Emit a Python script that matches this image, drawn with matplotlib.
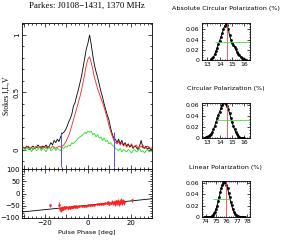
import numpy as np
import matplotlib
matplotlib.use("Agg")
import matplotlib.pyplot as plt
from matplotlib.ticker import MultipleLocator, FixedLocator

# ---------------- data ----------------
# Stokes profiles sampled every 0.75 deg from -30 to +30
stokes_I = [0.02, 0.01, 0.03, 0.02, 0.00, 0.02, 0.03, 0.01, 0.02, 0.04,
            0.02, 0.01, 0.03, 0.02, 0.04, 0.01, 0.03, 0.06, 0.04, 0.08,
            0.06, 0.09, 0.07, 0.11, 0.14, 0.15, 0.17, 0.20, 0.24, 0.27,
            0.31, 0.38, 0.41, 0.47, 0.52, 0.58, 0.64, 0.72, 0.80, 0.88,
            0.93, 1.00, 0.92, 0.82, 0.74, 0.68, 0.63, 0.57, 0.51, 0.46,
            0.40, 0.35, 0.30, 0.26, 0.19, 0.14, 0.10, 0.09, 0.06, 0.09,
            0.05, 0.08, 0.04, 0.06, 0.03, 0.05, 0.02, 0.04, 0.01, 0.03,
            0.02, 0.00, 0.03, 0.08, 0.02, 0.01, 0.03, 0.00, 0.02, -0.01,
            0.01]
stokes_L = [0.02, 0.01, 0.02, 0.03, 0.01, 0.02, 0.00, 0.02, 0.03, 0.01,
            0.02, 0.03, 0.01, 0.02, 0.01, 0.03, 0.02, 0.01, 0.03, 0.02,
            0.01, 0.02, 0.03, 0.02, 0.03, 0.04, 0.06, 0.09, 0.12, 0.16,
            0.21, 0.26, 0.31, 0.36, 0.41, 0.46, 0.52, 0.59, 0.66, 0.74,
            0.79, 0.81, 0.76, 0.70, 0.63, 0.58, 0.53, 0.49, 0.45, 0.41,
            0.37, 0.32, 0.27, 0.21, 0.16, 0.12, 0.08, 0.06, 0.05, 0.07,
            0.04, 0.06, 0.03, 0.05, 0.02, 0.04, 0.03, 0.05, 0.02, 0.03,
            0.04, 0.01, 0.03, 0.02, 0.04, 0.02, 0.01, 0.03, 0.02, 0.01,
            0.02]
stokes_V = [0.01, -0.01, 0.02, 0.00, 0.01, -0.02, 0.01, 0.02, -0.01, 0.00,
            0.02, -0.01, 0.01, 0.00, -0.02, 0.01, 0.02, -0.01, 0.00, 0.02,
            -0.01, 0.01, 0.00, -0.01, 0.02, 0.01, 0.03, 0.02, 0.04, 0.03,
            0.06, 0.05, 0.07, 0.08, 0.10, 0.11, 0.12, 0.13, 0.15, 0.14,
            0.16, 0.15, 0.16, 0.13, 0.14, 0.11, 0.13, 0.10, 0.11, 0.08,
            0.10, 0.07, 0.08, 0.05, 0.06, 0.04, 0.03, 0.01, 0.00, -0.01,
            0.01, -0.02, 0.00, -0.01, -0.02, 0.00, -0.01, -0.03, -0.01, 0.00,
            -0.02, -0.01, 0.01, -0.02, -0.01, -0.03, -0.01, 0.00, -0.02, -0.01,
            -0.02]
phase_start, phase_end = -30.0, 30.0
window_edges = [-12.5, 12.3]
window_height = [-0.15, 0.15]

# position angle
pa_phase = [-17.5, -13.5, -13.0, -12.5, -12.0, -11.5, -11.0, -10.5, -10.0, -9.5,
            -9.0, -8.5, -8.0, -7.5, -7.0, -6.5, -6.0, -5.5, -5.0, -4.0,
            -3.0, -2.0, -1.0, 0.0, 1.0, 2.0, 3.0, 4.0, 5.0, 6.0,
            7.0, 8.0, 9.0, 9.5, 10.0, 10.5, 11.0, 11.5, 12.0, 12.5,
            13.0, 13.5, 14.0, 14.5, 15.0, 15.5, 16.0, 16.5, 17.0, 20.5]
pa_value = [-48, -45, -62, -66, -58, -63, -55, -60, -57, -61,
            -54, -58, -56, -55, -57, -53, -55, -52, -54, -52,
            -51, -50, -49, -48, -47, -46, -45, -44, -43, -42,
            -41, -40, -40, -36, -42, -38, -33, -40, -35, -44,
            -31, -38, -30, -42, -34, -27, -39, -32, -36, -28]
pa_error = [6, 10, 8, 9, 6, 6, 5, 5, 4, 4,
            4, 3, 3, 3, 3, 3, 2, 2, 2, 2,
            2, 2, 2, 2, 2, 2, 2, 2, 2, 2,
            3, 3, 4, 4, 5, 5, 5, 6, 6, 7,
            6, 7, 7, 8, 7, 8, 8, 8, 9, 6]
pa_fit_slope, pa_fit_offset = 0.89, -48.0

# distributions (right panels)
abs_circ_x = [13.3, 13.4, 13.5, 13.6, 13.7, 13.8, 13.9, 14.0, 14.1, 14.2,
              14.3, 14.4, 14.5, 14.6, 14.7, 14.8, 14.9, 15.0, 15.1, 15.2,
              15.3, 15.4, 15.5, 15.6, 15.7, 15.8, 15.9, 16.0, 16.1]
abs_circ_y = [0.001, 0.003, 0.006, 0.011, 0.017, 0.024, 0.031, 0.038, 0.045, 0.052,
              0.060, 0.066, 0.071, 0.068, 0.060, 0.048, 0.040, 0.034, 0.030, 0.026,
              0.021, 0.016, 0.012, 0.009, 0.006, 0.004, 0.002, 0.001, 0.0005]
abs_circ_mark = 14.62
abs_circ_range = [13.65, 16.45]
abs_circ_level = 0.036

circ_x = [12.7, 12.8, 12.9, 13.0, 13.1, 13.2, 13.3, 13.4, 13.5, 13.6,
          13.7, 13.8, 13.9, 14.0, 14.1, 14.2, 14.3, 14.4, 14.5, 14.6,
          14.7, 14.8, 14.9, 15.0, 15.1, 15.2, 15.3, 15.4, 15.5, 15.6,
          15.7, 15.8, 15.9, 16.0]
circ_y = [0.0005, 0.001, 0.002, 0.003, 0.004, 0.006, 0.008, 0.011, 0.016, 0.022,
          0.029, 0.036, 0.042, 0.048, 0.054, 0.060, 0.064, 0.065, 0.062, 0.058,
          0.052, 0.045, 0.037, 0.029, 0.022, 0.016, 0.011, 0.007, 0.004, 0.002,
          0.001, 0.0005, 0.0002, 0.0001]
circ_mark = 14.63
circ_range = [13.7, 16.45]
circ_level = 0.033

lin_x = [73.8, 73.9, 74.0, 74.1, 74.2, 74.3, 74.4, 74.5, 74.6, 74.7,
         74.8, 74.9, 75.0, 75.1, 75.2, 75.3, 75.4, 75.5, 75.6, 75.7,
         75.8, 75.9, 76.0, 76.1, 76.2, 76.3, 76.4, 76.5, 76.6, 76.7,
         76.8, 76.9, 77.0, 77.1, 77.2, 77.3, 77.4, 77.5, 77.6, 77.7,
         77.8]
lin_y = [0.0000, 0.0000, 0.0001, 0.0001, 0.0002, 0.0004, 0.0008, 0.0013, 0.0025, 0.0041,
         0.0066, 0.0097, 0.0146, 0.0203, 0.0276, 0.0349, 0.0433, 0.0502, 0.0568, 0.0603,
         0.0622, 0.0610, 0.0562, 0.0508, 0.0428, 0.0355, 0.0272, 0.0206, 0.0143, 0.0099,
         0.0064, 0.0042, 0.0023, 0.0014, 0.0007, 0.0004, 0.0002, 0.0001, 0.0001, 0.0000,
         0.0000]
lin_mark = 76.0
lin_range = [74.75, 76.25]
lin_level = 0.031

# ---------------- style ----------------
plt.rcParams['font.family'] = ['DejaVu Sans']
SERIF = 'Liberation Serif'
LW = 0.6

W, H = 281, 246
fig = plt.figure(figsize=(W / 100, H / 100), dpi=100)


def box(l, t, r, b):
    return [l / W, 1 - b / H, (r - l) / W, (b - t) / H]


def style(ax, fs=4.5):
    ax.tick_params(which='both', direction='in', top=True, right=True,
                   width=0.5, labelsize=fs, pad=1.5)
    ax.tick_params(which='major', length=3)
    ax.tick_params(which='minor', length=1.5)
    for s in ax.spines.values():
        s.set_linewidth(0.6)


phase = np.linspace(phase_start, phase_end, len(stokes_I))

# top profile panel
ax1 = fig.add_axes(box(22, 23, 152, 169))
ax1.plot(phase, stokes_I, color='black', lw=LW)
ax1.plot(phase, stokes_L, color='#ff2020', lw=LW)
ax1.plot(phase, stokes_V, color='#20e020', lw=LW)
ax1.vlines(window_edges, window_height[0], window_height[1], color='#5050ff', lw=0.7)
ax1.set_xlim(-30.7, 29.8)
ax1.set_ylim(-0.17, 1.105)
ax1.xaxis.set_major_locator(MultipleLocator(10))
ax1.xaxis.set_minor_locator(MultipleLocator(2))
ax1.yaxis.set_major_locator(FixedLocator([0, 0.5, 1]))
ax1.yaxis.set_minor_locator(MultipleLocator(0.1))
ax1.set_xticklabels([])
ax1.set_yticklabels(['0', '0.5', '1'])
style(ax1, 5)
for lab in ax1.get_yticklabels():
    lab.set_rotation(90)
    lab.set_va('center')
ax1.set_ylabel('Stokes I,L,V', family=SERIF, fontsize=5.5, labelpad=2)
ax1.set_title('Parkes: J0108\u22121431, 1370 MHz', family=SERIF, fontsize=6.4, pad=11)

# position angle panel
ax2 = fig.add_axes(box(22, 169, 152, 218))
ax2.plot([-31, 31], [pa_fit_offset + pa_fit_slope * (-31), pa_fit_offset + pa_fit_slope * 31],
         color='black', lw=0.6)
ax2.errorbar(pa_phase, pa_value, yerr=pa_error, fmt='s', ms=0.8, color='#ff2020',
             ecolor='#ff2020', elinewidth=0.6, capsize=0)
ax2.set_xlim(-30.7, 29.8)
ax2.set_ylim(-100, 100)
ax2.xaxis.set_major_locator(MultipleLocator(10))
ax2.xaxis.set_minor_locator(MultipleLocator(2))
ax2.yaxis.set_major_locator(MultipleLocator(50))
ax2.yaxis.set_minor_locator(MultipleLocator(10))
style(ax2, 5)
ax2.set_xticklabels(['' if abs(v) % 20 else f'{int(v)}'.replace('-', '\u2212')
                     for v in ax2.get_xticks()])
ax2.set_xlabel('Pulse Phase [deg]', fontsize=4.6, labelpad=3)


def small(ax, x, y, mark, rng, level, xlim, ylim, xt, title):
    ax.plot(x, y, color='black', lw=0.7, marker='s', ms=0.9)
    ax.axvline(mark, color='#ff4040', lw=0.6)
    ax.hlines(level, rng[0], rng[1], color='#40e040', lw=0.6)
    ax.set_xlim(*xlim)
    ax.set_ylim(*ylim)
    ax.xaxis.set_major_locator(FixedLocator(xt))
    ax.xaxis.set_minor_locator(MultipleLocator(0.2))
    ax.yaxis.set_major_locator(FixedLocator([0, 0.02, 0.04, 0.06]))
    ax.yaxis.set_minor_locator(MultipleLocator(0.005))
    ax.set_yticklabels(['0', '0.02', '0.04', '0.06'])
    ax.set_xticklabels([str(v) for v in xt])
    style(ax, 4.4)
    ax.tick_params(which='major', length=2)
    ax.tick_params(which='minor', length=1)
    ax.set_title(title, fontsize=4.6, pad=9)


ax3 = fig.add_axes(box(201.7, 22.7, 250, 60))
small(ax3, abs_circ_x, abs_circ_y, abs_circ_mark, abs_circ_range, abs_circ_level,
      (12.55, 16.45), (0, 0.073), [13, 14, 15, 16], 'Absolute Circular Polarization (%)')
ax4 = fig.add_axes(box(201.7, 102.7, 250, 138.3))
small(ax4, circ_x, circ_y, circ_mark, circ_range, circ_level,
      (12.55, 16.45), (0, 0.064), [13, 14, 15, 16], 'Circular Polarization (%)')
ax5 = fig.add_axes(box(201.7, 181, 250, 217.3))
small(ax5, lin_x, lin_y, lin_mark, lin_range, lin_level,
      (73.62, 78.26), (0, 0.063), [74, 75, 76, 77, 78], 'Linear Polarization (%)')

fig.savefig('out.png', dpi=100)
